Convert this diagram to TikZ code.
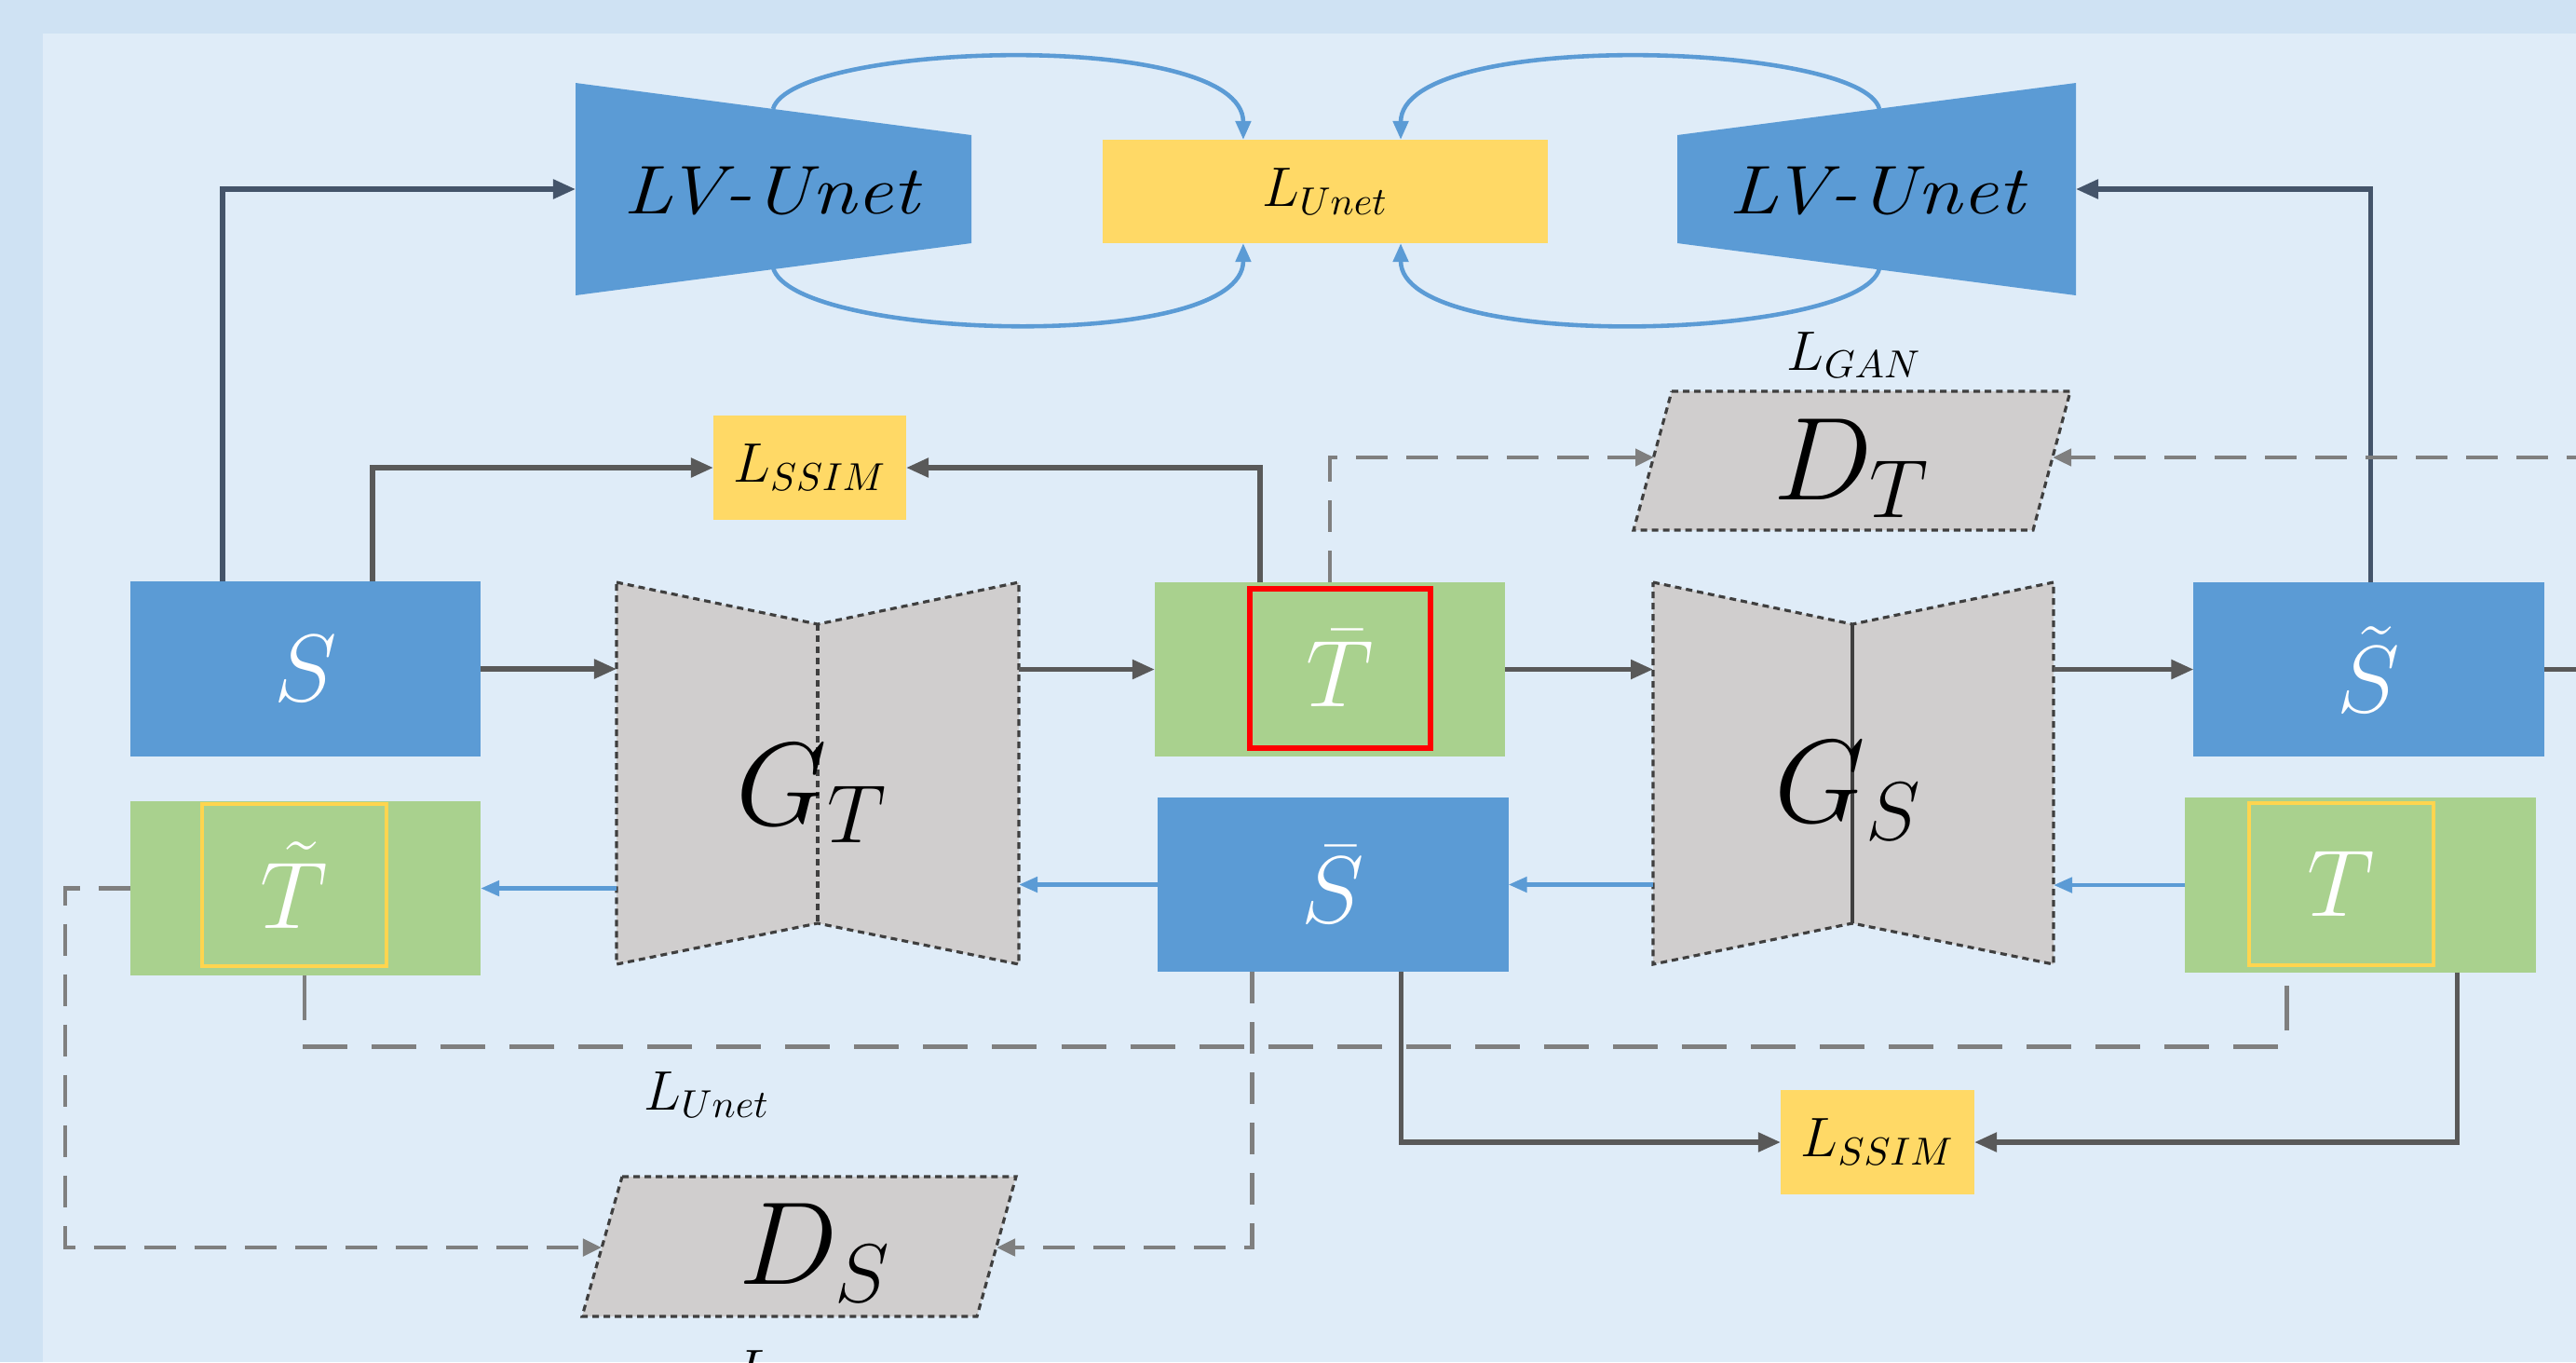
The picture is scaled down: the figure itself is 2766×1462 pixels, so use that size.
\RequirePackage{fix-cm}
\documentclass[tikz,border=0pt]{standalone}
\usepackage{amsmath}
\usepackage{graphicx}
\usetikzlibrary{arrows.meta}
\definecolor{outerbg}{HTML}{CFE2F3}
\definecolor{innerbg}{HTML}{DFECF8}
\definecolor{boxblue}{HTML}{5B9BD5}
\definecolor{boxgreen}{HTML}{A9D18E}
\definecolor{boxyellow}{HTML}{FFD966}
\definecolor{frameyellow}{HTML}{FFD54F}
\definecolor{shapegray}{HTML}{D0CECE}
\definecolor{darkline}{HTML}{595959}
\definecolor{slateline}{HTML}{44546A}
\definecolor{dashgray}{HTML}{7F7F7F}
\definecolor{outlinegray}{HTML}{3F3F3F}
\begin{document}
\begin{tikzpicture}[x=0.01cm,y=-0.01cm,
  bx/.style={inner sep=0pt, outer sep=0pt, minimum width=3.76cm, minimum height=1.87cm},
  bluebox/.style={bx, fill=boxblue},
  greenbox/.style={bx, fill=boxgreen},
  lossbox/.style={fill=boxyellow, inner sep=0pt, outer sep=0pt, font=\fontsize{17}{18}\selectfont},
  letter/.style={text=white, inner sep=0pt, font=\fontsize{29}{30}\selectfont},
  biglabel/.style={inner sep=0pt, font=\fontsize{36}{38}\selectfont},
  losslabel/.style={inner sep=0pt, font=\fontsize{17}{18}\selectfont},
  lvtext/.style={inner sep=0pt, font=\fontsize{21}{24}\selectfont\itshape},
  darrow/.style={draw=darkline, line width=1.5pt, -{Triangle[length=0.24cm,width=0.2cm]}},
  slatearrow/.style={darrow, draw=slateline},
  barrow/.style={draw=boxblue, line width=1.3pt, -{Triangle[length=0.2cm,width=0.16cm]}},
  garrow/.style={draw=dashgray, line width=1.3pt, dash pattern=on 0.34cm off 0.2cm, -{Triangle[length=0.2cm,width=0.18cm]}},
  ldashed/.style={draw=dashgray, line width=1.4pt, dash pattern=on 0.48cm off 0.26cm},
  netshape/.style={fill=shapegray, draw=outlinegray, line width=0.9pt, dash pattern=on 0.07cm off 0.05cm},
  innerframe/.style={inner sep=0pt, minimum width=1.98cm, minimum height=1.74cm, draw=frameyellow, line width=1.3pt},
]
\useasboundingbox (0,0) rectangle (2766,1462);
\clip (0,0) rectangle (2766,1462);
\fill[outerbg] (0,0) rectangle (2766,1462);
\fill[innerbg] (46,36) rectangle (2766,1462);

% anchor coordinates
\coordinate (GTw) at (662,718);
\coordinate (GTe) at (1094,718);
\coordinate (GSw) at (1775,718);
\coordinate (GSe) at (2205,718);
\coordinate (lvLin) at (618,203);
\coordinate (lvRin) at (2229,203);
\coordinate (lvLt) at (830,117);
\coordinate (lvLb) at (830,287);
\coordinate (lvRt) at (2018,117);
\coordinate (lvRb) at (2018,288);
\coordinate (DTw) at (1776,491);
\coordinate (DTe) at (2204,491);
\coordinate (DSw) at (646,1339);
\coordinate (DSe) at (1070,1339);
\coordinate (rimA) at (2790,718);
\coordinate (rimB) at (2790,491);

% LV-Unet shapes
\fill[boxblue] (618,89) -- (1043,145) -- (1043,261) -- (618,317) -- cycle;
\node[lvtext] (lvL) at (828,205) {\scalebox{1.18}[1]{LV-Unet}};
\fill[boxblue] (1801,145) -- (2229,89) -- (2229,317) -- (1801,261) -- cycle;
\node[lvtext] (lvR) at (2015,205) {\scalebox{1.18}[1]{LV-Unet}};

% loss boxes
\node[lossbox, minimum width=4.78cm, minimum height=1.11cm] (Lunet) at (1423,205.5) {$L_{Unet}$};
\node[lossbox, minimum width=2.07cm, minimum height=1.12cm] (ssim1) at (869.5,502) {$L_{SSIM}$};
\node[lossbox, minimum width=2.08cm, minimum height=1.12cm] (ssim2) at (2016,1226) {$L_{SSIM}$};

% blue loops
\draw[barrow] (lvLt) .. controls (850,45) and (1335,30) .. ([xshift=-0.88cm]Lunet.north);
\draw[barrow] (lvLb) .. controls (850,365) and (1335,380) .. ([xshift=-0.88cm]Lunet.south);
\draw[barrow] (lvRt) .. controls (2000,45) and (1504,30) .. ([xshift=0.81cm]Lunet.north);
\draw[barrow] (lvRb) .. controls (2000,365) and (1504,380) .. ([xshift=0.81cm]Lunet.south);

% generator shapes
\draw[netshape] (662,625) -- (878,670) -- (1094,625) -- (1094,1035) -- (878,991) -- (662,1035) -- cycle;
\draw[netshape, fill=none] (878,670) -- (878,991);
\node[biglabel, anchor=base] (GT) at (872,885) {$G_T$};
\draw[netshape] (1775,625) -- (1989,670) -- (2205,625) -- (2205,1035) -- (1989,991) -- (1775,1035) -- cycle;
\draw[draw=outlinegray, line width=0.9pt] (1989,670) -- (1989,991);
\node[biglabel, anchor=base] (GS) at (1985,882) {$G_S$};

% discriminators
\draw[netshape] (1795,420) -- (2223,420) -- (2183,569) -- (1754,569) -- cycle;
\node[biglabel, anchor=base] (DT) at (1988,536) {$D_T$};
\draw[netshape] (668,1263) -- (1091,1263) -- (1049,1413) -- (625,1413) -- cycle;
\node[biglabel, anchor=base] (DS) at (875,1378) {$D_S$};

% image boxes
\node[bluebox, letter] (S) at (328,718) {$S$};
\node[greenbox] (Tbar) at (1428,718.5) {};
\node[letter, draw=red, line width=1.6pt, minimum width=1.94cm, minimum height=1.71cm] (Tbarin) at (1439,717.5) {$\bar{T}$};
\node[bluebox, letter] (Stil) at (2543.5,718.5) {$\tilde{S}$};
\node[greenbox] (Ttil) at (328,953.5) {};
\node[innerframe, letter] (Ttilin) at (316,950) {$\tilde{T}$};
\node[bluebox, letter] (Sbar) at (1431.5,949.5) {$\bar{S}$};
\node[greenbox] (T) at (2534.5,950) {};
\node[innerframe, letter] (Tin) at (2514,949) {$T$};

% labels
\node[losslabel, anchor=base] (ganT) at (1991,397) {$L_{GAN}$};
\node[losslabel, anchor=base] (unetB) at (759,1191) {$L_{Unet}$};
\node[losslabel, anchor=base] (ganS) at (862,1490) {$L_{GAN}$};

% main flow (dark)
\draw[darrow] (S.east) -- (GTw |- S.east);
\draw[darrow] (GTe |- Tbar.west) -- (Tbar.west);
\draw[darrow] (Tbar.east) -- (GSw |- Tbar.east);
\draw[darrow] (GSe |- Stil.west) -- (Stil.west);
\draw[draw=darkline, line width=1.5pt] (Stil.east) -- (rimA |- Stil.east);

% reverse flow (blue)
\draw[barrow] (GTw |- Ttil.east) -- (Ttil.east);
\draw[barrow] (Sbar.west) -- (GTe |- Sbar.west);
\draw[barrow] (GSw |- Sbar.east) -- (Sbar.east);
\draw[barrow] (T.west) -- (GSe |- T.west);

% to LV-Unets
\draw[slatearrow] ([xshift=0.99cm]S.north west) |- (lvLin);
\draw[slatearrow] ([xshift=1.90cm]Stil.north west) |- (lvRin);

% SSIM losses
\draw[darrow] ([xshift=2.60cm]S.north west) |- (ssim1.west);
\draw[darrow] ([xshift=1.13cm]Tbar.north west) |- (ssim1.east);
\draw[darrow] ([xshift=2.61cm]Sbar.south west) |- (ssim2.west);
\draw[darrow] ([xshift=2.92cm]T.south west) |- (ssim2.east);

% GAN losses (dashed)
\draw[garrow] ([xshift=1.88cm]Tbar.north west) |- (DTw);
\draw[garrow] (rimB) -- (DTe);
\draw[garrow] ([xshift=1.01cm]Sbar.south west) |- (DSe);
\draw[garrow] (Ttil.west) -- ++(-70,0) |- (DSw);

% L_Unet cycle (dashed)
\draw[ldashed] ([xshift=1.87cm]Ttil.south west) -- ++(0,76) -| ([xshift=1.09cm]T.south west);
\end{tikzpicture}
\end{document}
